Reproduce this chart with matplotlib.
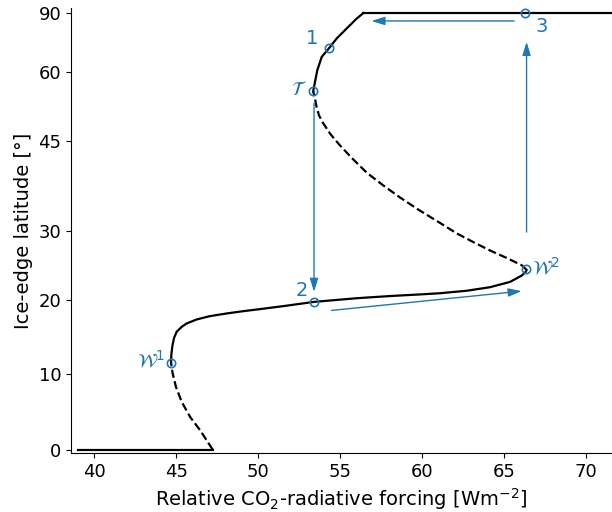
import numpy as np
import matplotlib
matplotlib.use("Agg")
import matplotlib.pyplot as plt

# branches of the ice-edge bifurcation diagram: forcing [W m^-2], latitude [deg]
F_snowball = [39.0, 47.22]
lat_snowball = [0, 0]

F_unst_low = [47.22, 46.45, 45.84, 45.33, 44.98, 44.78, 44.68]
lat_unst_low = [0, 2.56, 4.31, 6.29, 8.27, 10.05, 11.5]

F_st_mid = [44.68, 44.70, 44.76, 44.86, 45.02, 45.33, 45.63, 46.24, 47.05, 48.07,
            49.09, 50.10, 51.7, 53.4, 56.0, 58.0, 60.0, 61.08, 62.71, 64.13,
            65.35, 66.06, 66.3, 66.36]
lat_st_mid = [11.5, 12.6, 13.7, 14.8, 15.66, 16.34, 16.80, 17.35, 17.81, 18.18,
              18.50, 18.78, 19.25, 19.79, 20.3, 20.6, 20.85, 21.0, 21.35, 21.85,
              22.6, 23.5, 24.0, 24.3]

F_unst_high = [66.36, 66.2, 66.06, 65.15, 64.13, 63.11, 62.1, 61.08, 59.8, 58.64,
               57.6, 56.61, 55.75, 54.98, 54.4, 53.96, 53.7, 53.56, 53.46, 53.35]
lat_unst_high = [24.3, 24.7, 25.0, 26.05, 27.15, 28.4, 29.7, 31.3, 33.3, 35.3,
                 37.3, 39.4, 41.8, 44.2, 46.3, 48.4, 50.0, 51.7, 53.5, 55.2]

F_st_top = [53.35, 53.46, 53.60, 53.87, 54.33, 54.78, 55.39, 56.0, 56.4]
lat_st_top = [55.2, 57.42, 60.39, 64.15, 67.0, 70.4, 74.8, 81.0, 90]

F_icefree = [56.4, 72.0]
lat_icefree = [90, 90]

# marked states
pt_names = ["1", "T", "3", "2", "W2", "W1"]
pt_F = [54.31, 53.35, 66.28, 53.4, 66.3, 44.68]
pt_lat = [67.0, 55.2, 90.0, 19.8, 24.4, 11.5]

# hysteresis arrows: (F start, lat start, F end, lat end)
arr_F0 = [53.4, 54.47, 66.36, 65.6]
arr_lat0 = [52.5, 18.6, 29.9, 79.2]
arr_F1 = [53.4, 66.06, 66.36, 56.9]
arr_lat1 = [21.2, 21.3, 69.1, 79.2]

yticks = [0, 10, 20, 30, 45, 60, 90]


def s(lat):
    return np.sin(np.deg2rad(np.asarray(lat, dtype=float)))


blue = "#1f77b4"
fig = plt.figure(figsize=(6.12, 5.12), dpi=100)
ax = fig.add_axes([0.116, 0.115, 0.884, 0.869])

ax.plot(F_snowball, s(lat_snowball), "k-", lw=1.6)
ax.plot(F_unst_low, s(lat_unst_low), "k--", lw=1.6)
ax.plot(F_st_mid, s(lat_st_mid), "k-", lw=1.6)
ax.plot(F_unst_high, s(lat_unst_high), "k--", lw=1.6)
ax.plot(F_st_top, s(lat_st_top), "k-", lw=1.6)
ax.plot(F_icefree, s(lat_icefree), "k-", lw=1.6)

for f0, l0, f1, l1 in zip(arr_F0, arr_lat0, arr_F1, arr_lat1):
    ax.annotate("", xy=(f1, s(l1)), xytext=(f0, s(l0)),
                arrowprops=dict(arrowstyle="-|>,head_length=0.8,head_width=0.25",
                                color=blue, lw=1.0, shrinkA=0, shrinkB=0))

ax.plot(pt_F, s(pt_lat), "o", mfc="none", mec=blue, ms=6, mew=1.2)

labels = {"1": ("1", (-12, 7), "center"),
          "T": (r"$\mathcal{T}$", (-4, 1.5), "right"),
          "3": ("3", (12, -9.5), "center"),
          "2": ("2", (-8.5, 8), "center"),
          "W2": (r"$\mathcal{W}^2$", (4.5, 1.5), "left"),
          "W1": (r"$\mathcal{W}^1$", (-4.5, 1.5), "right")}
for name, f, la in zip(pt_names, pt_F, pt_lat):
    txt, off, ha = labels[name]
    ax.annotate(txt, xy=(f, s(la)), xytext=off, textcoords="offset points",
                ha=ha, va="center", color=blue, fontsize=14)

ax.set_xlim(38.58, 71.57)
ax.set_ylim(-0.008, 1.0115)
ax.set_xticks([40, 45, 50, 55, 60, 65, 70])
ax.set_yticks(s(yticks))
ax.set_yticklabels([str(t) for t in yticks])
ax.tick_params(labelsize=13)
ax.spines["top"].set_visible(False)
ax.spines["right"].set_visible(False)
ax.set_xlabel(r"Relative CO$_2$-radiative forcing [Wm$^{-2}$]", fontsize=14)
ax.set_ylabel("Ice-edge latitude [°]", fontsize=14)

fig.savefig("out.png", dpi=100)
